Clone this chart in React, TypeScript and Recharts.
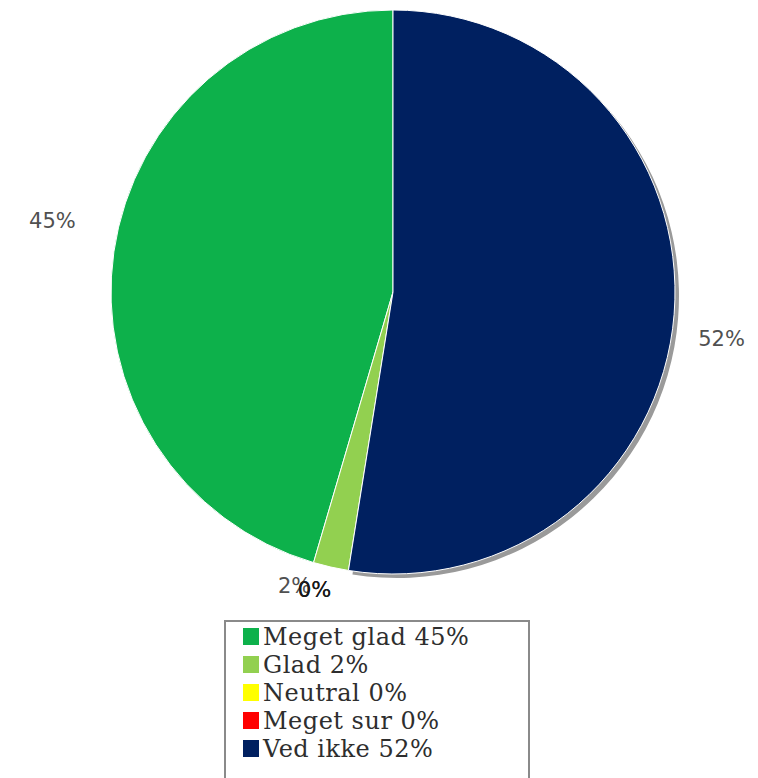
import { PieChart, Pie, Cell, Legend } from 'recharts';

const CATEGORIES = ['Meget glad', 'Glad', 'Neutral', 'Meget sur', 'Ved ikke'];
const PERCENTS = [45, 2, 0, 0, 52];
const COLORS = ['#0db14b', '#92d050', '#ffff00', '#ff0000', '#002060'];
// only the last slice casts a visible shadow in the source
const SHADOW = ['none', 'none', 'none', 'none', '#9a9a9a'];

const data = CATEGORIES.map((name, i) => ({ name, value: PERCENTS[i] }));

const RAD = Math.PI / 180;
const LABEL_FONT = 21;

// jpgraph-like outside label placement: anchor point on a circle, box nudged by angle
function renderLabel(props: any) {
  const { cx, cy, midAngle, outerRadius, value } = props;
  const text = `${value}%`;
  const w = text.length * LABEL_FONT * 0.74;
  const h = LABEL_FONT * 1.05;
  const a = (((midAngle - 4) % 360) + 360) % 360;
  const cos = Math.cos(a * RAD);
  const r = outerRadius + 8 + 27 * Math.abs(cos);
  const xt = cx - 8 + r * cos;
  const yt = cy - r * Math.sin(a * RAD);
  let dx = 0;
  let dy = 0;
  if (a >= 315 || a <= 45) dx = 0;
  if (a >= 45 && a <= 135) dx = (a - 45) / 90;
  if (a >= 135 && a <= 225) dx = 1;
  if (a >= 225 && a <= 315) dx = 1 - (a - 225) / 90;
  if (a >= 315) dy = (a - 315) / 90;
  if (a <= 45) dy = 1 - a / 90;
  if (a >= 45 && a <= 135) dy = 1;
  if (a >= 135 && a <= 225) dy = 1 - (a - 135) / 90;
  if (a >= 225 && a <= 315) dy = 0;
  const x = xt - dx * w;
  const y = yt - dy * h;
  return (
    <text
      x={x}
      y={y + h * 0.74}
      fill={value === 0 ? '#1a1a1a' : '#505050'}
      fontFamily="'DejaVu Sans', sans-serif"
      fontSize={LABEL_FONT}
      textAnchor="start"
    >
      {text}
    </text>
  );
}

function LegendBox() {
  return (
    <div
      style={{
        border: '2px solid #8a8a8a',
        background: '#fff',
        boxSizing: 'border-box',
        width: 306,
        height: 170,
        paddingTop: 1,
        paddingLeft: 17,
      }}
    >
      {data.map((d, i) => (
        <div
          key={d.name}
          style={{
            display: 'flex',
            alignItems: 'flex-start',
            height: 28,
            lineHeight: '28px',
            fontFamily: "'DejaVu Serif', serif",
            fontSize: 24,
            letterSpacing: 0.5,
            color: '#2e2e2e',
            whiteSpace: 'nowrap',
          }}
        >
          <span
            style={{
              display: 'inline-block',
              flex: 'none',
              width: 16,
              height: 17,
              marginTop: 5,
              marginRight: 4,
              background: COLORS[i],
            }}
          />
          <span>{`${d.name} ${d.value}%`}</span>
        </div>
      ))}
    </div>
  );
}

export default function App() {
  return (
    <div style={{ position: 'absolute', left: 0, top: 0, width: 758, height: 778, overflow: 'hidden', background: '#fff' }}>
      <PieChart width={758} height={778} margin={{ top: 0, right: 0, bottom: 0, left: 0 }}>
        <Pie
          data={data}
          dataKey="value"
          cx={397}
          cy={296}
          outerRadius={282}
          startAngle={90}
          endAngle={450}
          stroke="none"
          isAnimationActive={false}
          legendType="none"
        >
          {data.map((d, i) => (
            <Cell key={d.name} fill={SHADOW[i]} />
          ))}
        </Pie>
        <Pie
          data={data}
          dataKey="value"
          cx={393}
          cy={292}
          outerRadius={282}
          startAngle={90}
          endAngle={450}
          stroke="#ffffff"
          strokeWidth={1}
          label={renderLabel}
          labelLine={false}
          isAnimationActive={false}
        >
          {data.map((d, i) => (
            <Cell key={d.name} fill={COLORS[i]} />
          ))}
        </Pie>
        <Legend
          content={<LegendBox />}
          wrapperStyle={{ position: 'absolute', left: 224, top: 620, width: 306, height: 170 }}
        />
      </PieChart>
    </div>
  );
}
